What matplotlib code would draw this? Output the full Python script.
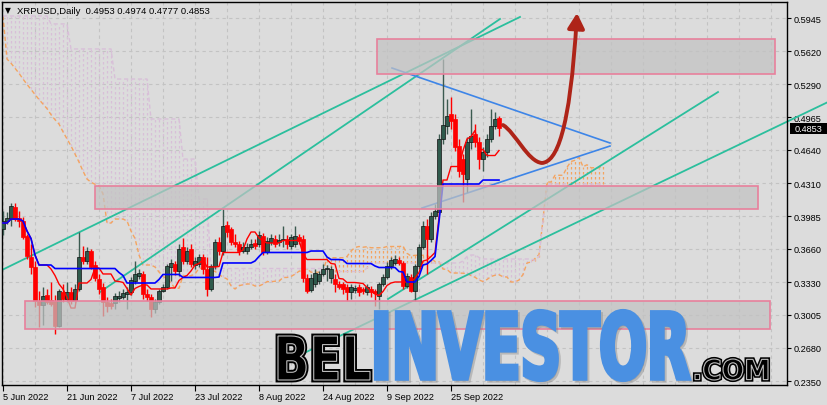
import numpy as np
import pandas as pd
import matplotlib
matplotlib.use("Agg")
import matplotlib.pyplot as plt
from matplotlib.path import Path
from matplotlib.patches import PathPatch, Rectangle, FancyArrowPatch
from matplotlib.textpath import TextPath
from matplotlib.font_manager import FontProperties
from matplotlib.transforms import Affine2D

symbol = "XRPUSD,Daily"

# daily bars from 5 Jun 2022 to 7 Oct 2022 (bar index 0..124)
opens = [.3857, .3936, .3966, .4075, .3966, .3936, .3787, .3579, .3480, .3143,
         .3104, .3203, .3153, .3143, .2895, .3232, .3163, .3232, .3153, .3262,
         .3579, .3540, .3639, .3500, .3361, .3282, .3133, .3123, .3123, .3173,
         .3183, .3213, .3232, .3341, .3391, .3411, .3213, .3183, .3064, .3133,
         .3242, .3282, .3480, .3510, .3441, .3678, .3540, .3659, .3500, .3510,
         .3579, .3460, .3262, .3490, .3728, .3639, .3896, .3857, .3728, .3708,
         .3639, .3639, .3678, .3718, .3708, .3787, .3629, .3728, .3758, .3728,
         .3748, .3758, .3688, .3708, .3777, .3758, .3371, .3252, .3312, .3341,
         .3411, .3460, .3371, .3361, .3312, .3312, .3282, .3232, .3252, .3282,
         .3262, .3232, .3262, .3242, .3193, .3312, .3381, .3490, .3520, .3550,
         .3520, .3292, .3381, .3242, .3490, .3678, .3886, .3758, .3986, .4025,
         .4749, .4877, .4996, .4947, .4679, .4550, .4352, .4719, .4798, .4719,
         .4550, .4620, .4749, .4877, .4953]
highs = [.4035, .4025, .4114, .4114, .4035, .3976, .3807, .3708, .3540, .3242,
         .3282, .3262, .3331, .3203, .3262, .3312, .3331, .3282, .3312, .3827,
         .3688, .3678, .3659, .3540, .3411, .3322, .3183, .3163, .3222, .3242,
         .3262, .3282, .3381, .3540, .3460, .3441, .3262, .3213, .3163, .3262,
         .3312, .3510, .3560, .3540, .3708, .3768, .3678, .3708, .3579, .3609,
         .3609, .3579, .3510, .3758, .3777, .4055, .3936, .3877, .3807, .3738,
         .3728, .3718, .3758, .3758, .3837, .3817, .3777, .3807, .3797, .3807,
         .3886, .3797, .3807, .3886, .3807, .3797, .3411, .3411, .3460, .3441,
         .3510, .3500, .3490, .3411, .3341, .3331, .3312, .3312, .3302, .3312,
         .3282, .3312, .3292, .3262, .3331, .3411, .3530, .3579, .3599, .3579,
         .3540, .3421, .3411, .3510, .3708, .3936, .3956, .4025, .4104, .4798,
         .5541, .5145, .5165, .4996, .4749, .4600, .4768, .5046, .4897, .4768,
         .4669, .4798, .5046, .5016, .4974]
lows = [.3797, .3906, .3886, .3936, .3877, .3758, .3560, .3411, .3084, .2886,
        .2905, .3114, .3094, .2816, .2886, .3133, .3133, .3114, .3133, .3242,
        .3510, .3510, .3460, .3341, .3213, .2995, .3034, .3064, .3064, .3133,
        .3163, .3064, .3203, .3312, .3361, .3163, .3143, .2985, .3024, .3114,
        .3232, .3262, .3341, .3401, .3391, .3510, .3510, .3480, .3460, .3480,
        .3411, .3193, .3242, .3460, .3599, .3599, .3777, .3698, .3678, .3599,
        .3619, .3609, .3659, .3659, .3678, .3599, .3609, .3698, .3678, .3688,
        .3678, .3659, .3659, .3678, .3708, .3331, .3222, .3232, .3282, .3312,
        .3391, .3341, .3322, .3232, .3262, .3213, .3143, .3163, .3222, .3193,
        .3213, .3203, .3183, .3094, .3064, .3292, .3361, .3460, .3500, .3500,
        .3262, .3272, .3232, .3143, .3460, .3659, .3411, .3728, .3956, .4005,
        .4699, .4798, .4848, .4630, .4372, .4124, .4223, .4650, .4669, .4451,
        .4431, .4570, .4719, .4848, .4777]
closes = [.3936, .3966, .4085, .3956, .3936, .3777, .3589, .3480, .3143, .3104,
          .3193, .3133, .3114, .2895, .3242, .3163, .3232, .3143, .3262, .3579,
          .3540, .3639, .3480, .3371, .3262, .3133, .3094, .3094, .3193, .3193,
          .3222, .3232, .3351, .3411, .3421, .3213, .3183, .3064, .3133, .3242,
          .3282, .3490, .3520, .3441, .3659, .3540, .3639, .3510, .3540, .3579,
          .3460, .3262, .3490, .3728, .3639, .3886, .3827, .3728, .3708, .3639,
          .3678, .3678, .3708, .3688, .3797, .3629, .3738, .3768, .3708, .3748,
          .3748, .3708, .3777, .3787, .3738, .3371, .3242, .3371, .3421, .3411,
          .3460, .3470, .3460, .3312, .3282, .3262, .3232, .3282, .3272, .3232,
          .3242, .3282, .3232, .3222, .3312, .3381, .3490, .3550, .3560, .3520,
          .3292, .3391, .3242, .3490, .3678, .3886, .3758, .3986, .4035, .4749,
          .4887, .4977, .4927, .4669, .4431, .4402, .4719, .4778, .4719, .4550,
          .4620, .4749, .4877, .4947, .4853]

date_labels = ["5 Jun 2022", "21 Jun 2022", "7 Jul 2022", "23 Jul 2022",
               "8 Aug 2022", "24 Aug 2022", "9 Sep 2022", "25 Sep 2022"]
date_label_bars = [0, 16, 32, 48, 64, 80, 96, 112]
price_ticks = [0.5945, 0.5620, 0.5290, 0.4965, 0.4640, 0.4310,
               0.3985, 0.3660, 0.3330, 0.3005, 0.2680, 0.2350]

# cloud values on the left that come from bars before the window
span_a_early = [.5968, .5541, .5500, .5450, .5400, .5343, .5290, .5240, .5190, .5140,
                .5095, .5050, .4990, .4940, .4897, .4820, .4750, .4680, .4600, .4520,
                .4430, .4352, .4320, .4300, .4283, .4204]
span_b_early_vals = [.5968, .5889, .5641, .5343, .4947, .4550, .4154]
span_b_early_runs = [12, 5, 11, 9, 8, 4, 3]

# drawn objects (bar index, price)
zones = [(93.5, 193.0, 0.5393, 0.5740),
         (23.0, 188.75, 0.4055, 0.4283),
         (5.5, 191.75, 0.2866, 0.3143)]
teal_lines = [((-0.75, 0.3441), (129.25, 0.5958)),
              ((24.25, 0.3232), (124.25, 0.5938)),
              ((96.25, 0.3163), (178.75, 0.5214))]
teal_long = ((74.25, 0.2608), (206.25, 0.5115))
triangle = [((97.25, 0.5452), (151.75, 0.4709)),
            ((104.75, 0.4065), (151.75, 0.4679))]
arrow_x = [125.0, 128.0, 131.25, 134.75, 138.25, 141.75, 143.5]
arrow_y = [0.4887, 0.4818, 0.4521, 0.4511, 0.4521, 0.4798, 0.5997]

BG = "#dcdcdc"
BULL = "#2f5a4c"
BEAR = "#ff0000"
W, H = 828, 406

o = np.array(opens); h = np.array(highs); l = np.array(lows); c = np.array(closes)
n = len(c)
idx = np.arange(n)

# ichimoku
hs, ls = pd.Series(h), pd.Series(l)
tenkan = (hs.rolling(9, min_periods=1).max() + ls.rolling(9, min_periods=1).min()) / 2
kijun = (hs.rolling(26, min_periods=1).max() + ls.rolling(26, min_periods=1).min()) / 2
sb_raw = (hs.rolling(52, min_periods=1).max() + ls.rolling(52, min_periods=1).min()) / 2
span_a = np.concatenate([span_a_early, ((tenkan + kijun) / 2).values])
span_b = np.concatenate([np.repeat(span_b_early_vals, span_b_early_runs), sb_raw.values[52 - 26:]])
m = min(len(span_a), len(span_b))
span_a, span_b = span_a[:m], span_b[:m]
jdx = np.arange(m)

fig = plt.figure(figsize=(W / 100, H / 100), dpi=100, facecolor=BG)
ax = fig.add_axes([2 / W, 1 - 386 / H, 785 / W, 383 / H], facecolor=BG)
ax.set_xlim(-0.25, 196)
ax.set_ylim(0.23107, 0.61063)

# grid
for p in price_ticks:
    ax.axhline(p, color="#c3c3c3", lw=0.8, ls=(0, (3, 3)), zorder=0)
for b in range(0, 193, 8):
    ax.axvline(b, color="#c3c3c3", lw=0.8, ls=(0, (3, 3)), zorder=0)

# cloud
cl = np.where(span_a >= span_b, "#f4a460", "#d8bfd8")
ax.vlines(jdx, np.minimum(span_a, span_b), np.maximum(span_a, span_b),
          colors=cl, lw=0.9, linestyles=[(0, (2, 2))], zorder=1)
ax.plot(jdx, span_a, color="#f4a460", lw=1, ls=(0, (3, 2)), zorder=1.5)
ax.plot(jdx, span_b, color="#d8bfd8", lw=1, ls=(0, (3, 2)), zorder=1.5)

# trend lines
for (x0, y0), (x1, y1) in teal_lines:
    ax.plot([x0, x1], [y0, y1], color="#2bbf9d", lw=1.3, zorder=2)
ax.plot([teal_long[0][0], teal_long[1][0]], [teal_long[0][1], teal_long[1][1]],
        color="#2bbf9d", lw=1.3, zorder=2, clip_on=False)
for (x0, y0), (x1, y1) in triangle:
    ax.plot([x0, x1], [y0, y1], color="#3d85e8", lw=1.2, zorder=2)

# candles
up = c >= o
wick_col = np.where(up, "#3b5a50", BEAR)
ax.vlines(idx, l, h, colors=wick_col, lw=1, zorder=3)
bot = np.minimum(o, c)
hgt = np.maximum(np.abs(c - o), 0.0007)
ax.bar(idx, hgt, bottom=bot, width=0.78, color=np.where(up, BULL, BEAR),
       edgecolor=np.where(up, "#111111", BEAR), lw=0.5, zorder=4)

ax.plot(idx, tenkan, color="#ff0000", lw=1, zorder=5)
ax.plot(idx, kijun, color="#0000ff", lw=1.2, zorder=5)

# zones
for x0, x1, y0, y1 in zones:
    ax.add_patch(Rectangle((x0, y0), x1 - x0, y1 - y0, facecolor="#c2c2c2",
                           alpha=0.72, edgecolor="none", zorder=6))
    ax.add_patch(Rectangle((x0, y0), x1 - x0, y1 - y0, facecolor="none",
                           edgecolor="#e8809c", lw=1.2, zorder=6.5))

# forecast arrow
codes = [Path.MOVETO] + [Path.CURVE4] * 6
arr = FancyArrowPatch(path=Path(np.column_stack([arrow_x, arrow_y]), codes),
                      arrowstyle="-|>,head_length=0.5,head_width=0.28",
                      mutation_scale=18, color="#ae2418", lw=2.8, zorder=7)
ax.add_patch(arr)

# axes styling
for s in ax.spines.values():
    s.set_color("black")
    s.set_linewidth(1)
ax.yaxis.tick_right()
ax.set_yticks(price_ticks)
ax.set_yticklabels([f"{p:.4f}" for p in price_ticks])
ax.set_xticks(date_label_bars)
ax.set_xticklabels(date_labels)
ax.tick_params(axis="y", length=3, width=0.8, pad=1.5, labelsize=6.6)
ax.tick_params(axis="x", length=4, width=0.8, pad=1, labelsize=6.6)
for t in ax.get_xticklabels() + ax.get_yticklabels():
    t.set_fontfamily("Liberation Sans")
for t in ax.get_xticklabels():
    t.set_ha("left")

# last price tag
last = c[-1]
ty = 1 - (0.6136 - last) / 0.000991 / H
fig.patches.append(Rectangle((790 / W, ty - 5.5 / H), 37 / W, 11 / H, facecolor="black",
                             transform=fig.transFigure, figure=fig, zorder=10))
fig.text(808.5 / W, ty, f"{last:.4f}", color="white", fontsize=6.6, family="Liberation Sans",
         ha="center", va="center", zorder=11)

# title
fig.text(5 / W, 1 - 11 / H, "\u25bc", fontsize=5.5, va="center", family="DejaVu Sans")
fig.text(17 / W, 1 - 11 / H,
         f"{symbol}  {o[-1]:.4f} {h[-1]:.4f} {l[-1]:.4f} {c[-1]:.4f}",
         fontsize=6.8, va="center", family="Liberation Sans")


# logo
def word(txt, box, face, edge=None, lw=0.0, inline=None, shadow=False, z=20):
    x0, y0, x1, y1 = box
    tp = TextPath((0, 0), txt, size=100, prop=FontProperties(family="DejaVu Sans", weight="bold"))
    e = tp.get_extents()
    tr = (Affine2D().translate(-e.x0, -e.y0)
          .scale((x1 - x0) / e.width / W, (y1 - y0) / e.height / H)
          .translate(x0 / W, 1 - y1 / H))
    pth = tr.transform_path(tp)
    if shadow:
        sp = Affine2D().translate(2 / W, -2 / H).transform_path(pth)
        fig.add_artist(PathPatch(sp, facecolor="#777777", edgecolor="#777777", lw=lw,
                                 alpha=0.35, transform=fig.transFigure, zorder=z - 1))
    fig.add_artist(PathPatch(pth, facecolor=face, edgecolor=edge or "none", lw=lw,
                             transform=fig.transFigure, zorder=z))
    if inline:
        fig.add_artist(PathPatch(pth, facecolor="none", edgecolor=inline, lw=0.8,
                                 transform=fig.transFigure, zorder=z + 0.1))


word("BEL", (278, 337, 370, 381), "black", edge="black", lw=3.5, inline="#bdbdbd")
word("INVESTOR", (376, 312, 689, 381), "#4a90e2", edge="#4a90e2", lw=3.0, shadow=True)
word(".COM", (695, 360, 768, 381), "black", edge="black", lw=3, inline="#bdbdbd")

fig.savefig("out.png", dpi=100, facecolor=BG)
